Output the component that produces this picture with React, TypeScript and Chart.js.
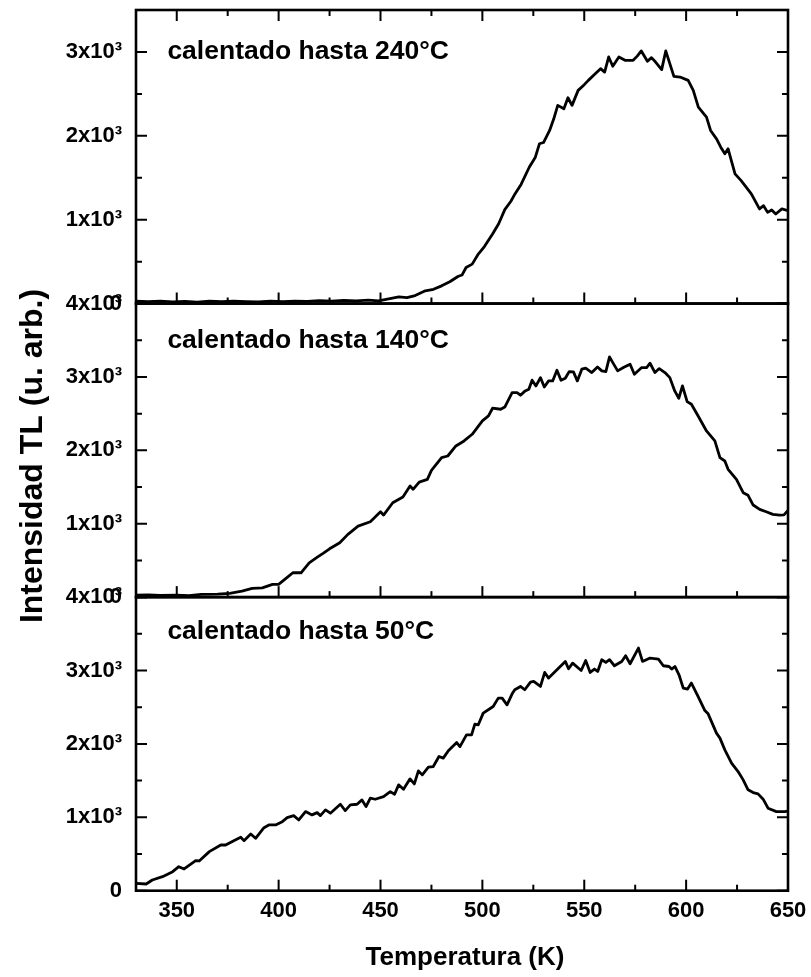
import React, { useEffect, useRef } from 'react';
import { Chart, registerables } from 'chart.js';

Chart.register(...registerables);

// ---- Data ----
const temp240 = [330, 336, 342, 348, 354, 360, 366, 372, 378, 384, 390, 396, 402, 408, 414, 420, 426, 432, 438, 444, 449, 454, 459, 463, 467, 472, 476, 480, 484, 488, 490, 492, 495, 498, 501, 505, 508, 511, 514, 516, 519, 523, 526, 528, 530, 533, 535, 537, 540, 542, 544, 547, 550, 552, 555, 558, 560, 562, 564, 567, 570, 574, 576, 578, 581, 583, 585, 588, 590, 594, 597, 601, 603.5, 606, 610, 612, 615, 617, 619, 620.6, 624, 627, 632, 636, 638, 640, 642, 644, 647, 650];
const int240 = [28, 22, 30, 20, 26, 18, 28, 22, 30, 24, 20, 28, 22, 30, 26, 34, 28, 38, 32, 40, 32, 55, 80, 70, 95, 152, 170, 211, 260, 323, 340, 430, 470, 590, 680, 829, 952, 1120, 1220, 1307, 1420, 1625, 1745, 1905, 1920, 2064, 2200, 2363, 2323, 2454, 2363, 2542, 2610, 2661, 2730, 2801, 2760, 2940, 2829, 2940, 2900, 2900, 2950, 3012, 2888, 2932, 2880, 2789, 3012, 2709, 2701, 2661, 2542, 2342, 2223, 2064, 1960, 1864, 1785, 1845, 1546, 1466, 1307, 1128, 1167, 1087, 1116, 1068, 1128, 1108];

const temp140 = [330, 336, 342, 350, 356, 362, 370, 376, 382, 387, 392, 397, 400, 403, 407, 411, 415, 419, 422, 425, 430, 434, 439, 445, 450, 451.5, 456, 461, 464.5, 466, 469, 473, 475, 480, 483, 487, 491, 495, 500, 503, 505, 509, 511, 514.6, 517, 518.7, 521, 522.8, 524.4, 526.3, 528.5, 530.4, 532.5, 534.5, 536.6, 538.6, 540.7, 542.6, 544.7, 546.6, 548.8, 550.7, 553.7, 556.5, 558.6, 560.6, 562.4, 564.3, 566.4, 569.2, 572.5, 574.6, 578.2, 580.6, 582.3, 584.7, 586.8, 589.6, 592, 594.4, 596.4, 598.2, 600.5, 602.6, 605.9, 610, 614.1, 616.6, 619, 620.6, 624.7, 628, 630.4, 632.9, 636.1, 639.3, 642.6, 645.9, 648, 650];
const int140 = [27, 30, 22, 27, 20, 37, 40, 50, 82, 118, 127, 173, 173, 241, 332, 332, 468, 546, 600, 659, 741, 855, 968, 1027, 1164, 1118, 1286, 1364, 1514, 1469, 1568, 1605, 1728, 1900, 1923, 2060, 2128, 2219, 2401, 2469, 2574, 2560, 2590, 2787, 2787, 2751, 2810, 2833, 2956, 2878, 2991, 2864, 2946, 2946, 3092, 2956, 2983, 3073, 3069, 2946, 3106, 3119, 3060, 3137, 3083, 3073, 3274, 3182, 3083, 3128, 3174, 3037, 3128, 3128, 3187, 3060, 3114, 3060, 2991, 2810, 2710, 2878, 2664, 2628, 2469, 2264, 2128, 1900, 1855, 1742, 1605, 1423, 1387, 1255, 1196, 1164, 1128, 1118, 1120, 1182];

const temp50 = [330, 335, 338, 343, 348, 351, 353.6, 359.3, 361, 366, 371.6, 374, 378, 381.4, 383, 386.3, 388.7, 392.8, 395.2, 398.5, 401.8, 404.2, 407.4, 409.9, 413.2, 416.4, 418.9, 420.5, 423, 425.4, 430.3, 432.7, 435.2, 438.5, 440.9, 442.9, 445, 447.4, 451.5, 454.8, 456.9, 458.9, 461.3, 464.5, 466.6, 468.6, 470.5, 473.5, 475.9, 478.7, 480.8, 483.3, 487.4, 489, 492.2, 494.7, 496.3, 498, 500.4, 505.3, 507.8, 509.7, 512.1, 514.6, 515.9, 518.7, 520.8, 523.6, 525.2, 528.5, 530.6, 532.5, 536.6, 540.7, 542.3, 544.3, 548.5, 550.7, 552.9, 555, 556.6, 558.6, 560.6, 562.4, 564.8, 568.4, 570.3, 572.5, 576.6, 578.6, 582.3, 586.4, 588.8, 591.6, 592.9, 594.5, 596.5, 598.6, 600.7, 602.6, 605.9, 609.2, 610.8, 614.9, 616.6, 619, 622.3, 625.5, 628, 630.4, 632.9, 635.3, 637.8, 640.2, 644.3, 648.4, 650];
const int50 = [100, 91, 146, 191, 259, 327, 296, 409, 405, 532, 623, 623, 682, 728, 682, 773, 714, 859, 896, 896, 941, 996, 1023, 964, 1078, 1033, 1064, 1023, 1101, 1056, 1178, 1091, 1169, 1178, 1237, 1146, 1260, 1246, 1282, 1350, 1315, 1442, 1383, 1524, 1455, 1633, 1578, 1683, 1692, 1828, 1806, 1906, 2019, 1964, 2124, 2124, 2270, 2261, 2420, 2510, 2624, 2624, 2533, 2683, 2738, 2783, 2738, 2842, 2851, 2783, 2974, 2897, 3010, 3124, 3024, 3101, 3001, 3137, 2974, 3020, 2987, 3147, 3110, 3147, 3065, 3124, 3201, 3092, 3306, 3124, 3170, 3156, 3065, 3055, 3020, 3055, 2942, 2761, 2747, 2829, 2646, 2455, 2410, 2147, 2079, 1919, 1738, 1623, 1510, 1374, 1337, 1319, 1247, 1124, 1078, 1078, 1085];

const panelLabels = ['calentado hasta 240°C', 'calentado hasta 140°C', 'calentado hasta 50°C'];
const panelMax = [3500, 4000, 4000];
const xMajorTicks = [350, 400, 450, 500, 550, 600, 650];
const xMinorTicks = [375, 425, 475, 525, 575, 625];
const yMajorTicks = [0, 1000, 2000, 3000, 4000];
const yMinorTicks = [500, 1500, 2500, 3500];
const xTitle = 'Temperatura (K)';
const yTitle = 'Intensidad TL (u. arb.)';

const FONT = '"Liberation Sans", Arial, Helvetica, sans-serif';

function fmtY(v: number): string {
  return v === 0 ? '0' : `${v / 1000}x10³`;
}

function yScaleOpts(max: number) {
  return {
    type: 'linear' as const,
    position: 'left' as const,
    stack: 'panels',
    stackWeight: 1,
    min: 0,
    max,
    grid: { display: false, drawTicks: false },
    border: { display: false },
    ticks: {
      autoSkip: false,
      padding: 14,
      color: '#000',
      font: { family: FONT, size: 22, weight: 'bold' as const },
      callback: (v: number | string) => fmtY(Number(v)),
    },
    afterBuildTicks: (s: any) => {
      s.ticks = yMajorTicks.filter((v) => v <= max).map((v) => ({ value: v }));
    },
    afterFit: (s: any) => {
      s.width = 136;
      s.paddingTop = 0;
      s.paddingBottom = 0;
    },
  };
}

const framePlugin = {
  id: 'framePlugin',
  afterDatasetsDraw(chart: any) {
    const { ctx, chartArea, scales } = chart;
    const x = scales.x;
    const panels = [scales.yTop, scales.yMid, scales.yBot];
    ctx.save();
    ctx.strokeStyle = '#000';
    // ticks
    ctx.lineWidth = 2;
    ctx.lineCap = 'butt';
    panels.forEach((s: any, idx: number) => {
      const yt = (v: number, len: number) => {
        const py = s.getPixelForValue(v);
        ctx.beginPath();
        ctx.moveTo(chartArea.left, py);
        ctx.lineTo(chartArea.left + len, py);
        ctx.moveTo(chartArea.right, py);
        ctx.lineTo(chartArea.right - len, py);
        ctx.stroke();
      };
      yMajorTicks.filter((v) => v <= s.max).forEach((v) => yt(v, 11));
      yMinorTicks.filter((v) => v <= s.max).forEach((v) => yt(v, 6));
      const xt = (v: number, len: number) => {
        const px = x.getPixelForValue(v);
        ctx.beginPath();
        ctx.moveTo(px, s.bottom);
        ctx.lineTo(px, s.bottom - len);
        if (idx === 0) {
          ctx.moveTo(px, s.top);
          ctx.lineTo(px, s.top + len);
        }
        ctx.stroke();
      };
      xMajorTicks.forEach((v) => xt(v, 11));
      xMinorTicks.forEach((v) => xt(v, 6));
    });
    // frames
    ctx.lineWidth = 2.6;
    panels.forEach((s: any) => {
      ctx.strokeRect(chartArea.left, s.top, chartArea.right - chartArea.left, s.bottom - s.top);
    });
    // panel labels
    ctx.fillStyle = '#000';
    ctx.font = `bold 26.5px ${FONT}`;
    ctx.textAlign = 'left';
    ctx.textBaseline = 'alphabetic';
    const labelY = [2920, 3400, 3430];
    panels.forEach((s: any, i: number) => {
      ctx.fillText(panelLabels[i], x.getPixelForValue(345.4), s.getPixelForValue(labelY[i]));
    });
    // axis titles
    ctx.font = `bold 26px ${FONT}`;
    ctx.textAlign = 'center';
    ctx.fillText(xTitle, 465, 965);
    ctx.save();
    ctx.translate(41.5, 456);
    ctx.rotate(-Math.PI / 2);
    ctx.font = `bold 32px ${FONT}`;
    ctx.fillText(yTitle, 0, 0);
    ctx.restore();
    ctx.restore();
  },
};

export default function App() {
  const ref = useRef<HTMLCanvasElement | null>(null);
  useEffect(() => {
    if (!ref.current) return;
    const mk = (t: number[], v: number[], yAxisID: string) => ({
      data: t.map((tt, i) => ({ x: tt, y: v[i] })),
      yAxisID,
      xAxisID: 'x',
      borderColor: '#000',
      borderWidth: 2.8,
      borderJoinStyle: 'round' as const,
      pointRadius: 0,
      fill: false,
      tension: 0,
    });
    const chart = new Chart(ref.current, {
      type: 'line',
      data: {
        datasets: [
          mk(temp240, int240, 'yTop'),
          mk(temp140, int140, 'yMid'),
          mk(temp50, int50, 'yBot'),
        ],
      },
      options: {
        responsive: false,
        animation: false,
        layout: { padding: { top: 10, right: 23, left: 0, bottom: 0 } },
        plugins: { legend: { display: false }, tooltip: { enabled: false } },
        scales: {
          x: {
            type: 'linear',
            position: 'bottom',
            min: 330,
            max: 650,
            grid: { display: false, drawTicks: false },
            border: { display: false },
            ticks: {
              autoSkip: false,
              maxRotation: 0,
              padding: 7,
              color: '#000',
              font: { family: FONT, size: 22, weight: 'bold' },
            },
            afterBuildTicks: (s: any) => {
              s.ticks = xMajorTicks.map((v) => ({ value: v }));
            },
            afterFit: (s: any) => {
              s.height = 86.3;
              s.paddingLeft = 0;
              s.paddingRight = 0;
            },
          },
          yBot: yScaleOpts(panelMax[2]),
          yMid: yScaleOpts(panelMax[1]),
          yTop: yScaleOpts(panelMax[0]),
        } as any,
      },
      plugins: [framePlugin],
    });
    return () => chart.destroy();
  }, []);
  return (
    <div style={{ position: 'absolute', left: 0, top: 0, width: 811, height: 977, background: '#fff' }}>
      <canvas ref={ref} width={811} height={977} style={{ display: 'block' }} />
    </div>
  );
}
